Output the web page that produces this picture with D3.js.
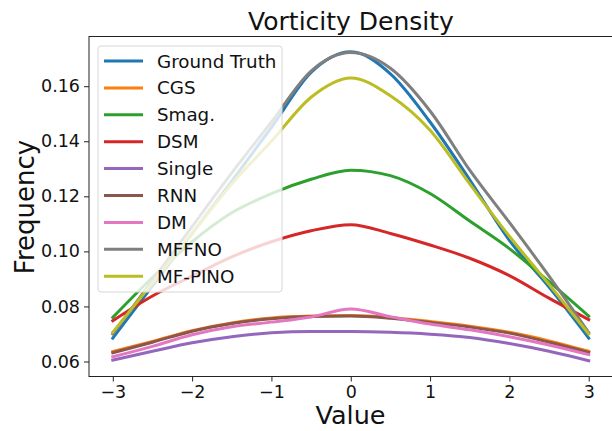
<!DOCTYPE html>
<html>
<head>
<meta charset="utf-8">
<script src="https://cdn.jsdelivr.net/npm/d3@7"></script>
<style>
  html, body { margin: 0; padding: 0; background: #fff; }
  svg { display: block; font-family: "DejaVu Sans", sans-serif; }
</style>
</head>
<body>
<svg id="chart" width="612" height="431"></svg>
<script>
const xValues = [-3, -2.5, -2, -1.5, -1, -0.5, 0, 0.5, 1, 1.5, 2, 2.5, 3];
const seriesNames = ["Ground Truth", "CGS", "Smag.", "DSM", "Single", "RNN", "DM", "MFFNO", "MF-PINO"];
const groundTruth = [0.0685, 0.0875, 0.1065, 0.1255, 0.1450, 0.1650, 0.1725, 0.1645, 0.1470, 0.1260, 0.1040, 0.0870, 0.0685];
const cgs         = [0.0636, 0.0673, 0.0712, 0.0740, 0.0758, 0.0765, 0.0767, 0.0760, 0.0745, 0.0728, 0.0706, 0.0675, 0.0637];
const smag        = [0.0760, 0.0905, 0.1035, 0.1140, 0.1210, 0.1262, 0.1295, 0.1275, 0.1210, 0.1110, 0.1010, 0.0890, 0.0765];
const dsm         = [0.0748, 0.0838, 0.0910, 0.0980, 0.1035, 0.1075, 0.1097, 0.1065, 0.1023, 0.0975, 0.0912, 0.0830, 0.0752];
const single      = [0.0605, 0.0637, 0.0668, 0.0690, 0.0704, 0.0709, 0.0709, 0.0706, 0.0699, 0.0687, 0.0665, 0.0637, 0.0603];
const rnn         = [0.0632, 0.0670, 0.0710, 0.0738, 0.0755, 0.0763, 0.0765, 0.0757, 0.0742, 0.0725, 0.0703, 0.0670, 0.0633];
const dm          = [0.0617, 0.0655, 0.0697, 0.0726, 0.0743, 0.0762, 0.0791, 0.0763, 0.0736, 0.0715, 0.0690, 0.0660, 0.0625];
const mffno       = [0.0700, 0.0895, 0.1090, 0.1285, 0.1470, 0.1655, 0.1722, 0.1665, 0.1510, 0.1295, 0.1105, 0.0910, 0.0705];
const mfpino      = [0.0706, 0.0885, 0.1065, 0.1245, 0.1400, 0.1560, 0.1630, 0.1565, 0.1440, 0.1245, 0.1055, 0.0880, 0.0700];
const seriesValues = [groundTruth, cgs, smag, dsm, single, rnn, dm, mffno, mfpino];
const colors = ["#1f77b4", "#ff7f0e", "#2ca02c", "#d62728", "#9467bd", "#8c564b", "#e377c2", "#7f7f7f", "#bcbd22"];
const xTicks = [-3, -2, -1, 0, 1, 2, 3];
const yTicks = [0.06, 0.08, 0.10, 0.12, 0.14, 0.16];
const titleText = "Vorticity Density";
const xLabel = "Value";
const yLabel = "Frequency";

const svg = d3.select("#chart");
const mLeft = 89, mRight = 612.5, mTop = 36.5, mBottom = 376.5;
const x = d3.scaleLinear().domain([-3.3, 3.3]).range([mLeft, mRight]);
const y = d3.scaleLinear().domain([0.05455, 0.17805]).range([mBottom, mTop]);

// lines
const line = d3.line().x((d, i) => x(xValues[i])).y(d => y(d)).curve(d3.curveMonotoneX);
const plot = svg.append("g");
seriesValues.forEach((vals, k) => {
  plot.append("path").datum(vals)
    .attr("d", line)
    .attr("fill", "none")
    .attr("stroke", colors[k])
    .attr("stroke-width", 3)
    .attr("stroke-linejoin", "round")
    .attr("stroke-linecap", "square");
});

// axes
const xAxis = d3.axisBottom(x).tickValues(xTicks).tickSize(5).tickPadding(4)
  .tickFormat(d => d < 0 ? "\u2212" + Math.abs(d) : String(d));
const yAxis = d3.axisLeft(y).tickValues(yTicks).tickSize(5).tickPadding(4)
  .tickFormat(d3.format(".2f"));
const gx = svg.append("g").attr("transform", `translate(0,${mBottom})`).call(xAxis);
const gy = svg.append("g").attr("transform", `translate(${mLeft},0)`).call(yAxis);
[gx, gy].forEach(g => {
  g.select(".domain").remove();
  g.selectAll(".tick line").attr("stroke", "#222").attr("stroke-width", 1);
  g.selectAll(".tick text").attr("font-size", 17.5).attr("fill", "#111")
    .attr("font-family", "DejaVu Sans, sans-serif");
});

// spines
svg.append("rect").attr("x", mLeft).attr("y", mTop)
  .attr("width", mRight - mLeft).attr("height", mBottom - mTop)
  .attr("fill", "none").attr("stroke", "#222").attr("stroke-width", 1);

// legend
const lg = svg.append("g");
lg.append("rect").attr("x", 98).attr("y", 46).attr("width", 184).attr("height", 246)
  .attr("rx", 3).attr("fill", "#fff").attr("fill-opacity", 0.8)
  .attr("stroke", "#d6d6d6").attr("stroke-width", 1);
seriesNames.forEach((name, k) => {
  const cy = 61 + k * 26.9;
  lg.append("line").attr("x1", 104).attr("x2", 143).attr("y1", cy).attr("y2", cy)
    .attr("stroke", colors[k]).attr("stroke-width", 3);
  lg.append("text").attr("x", 157).attr("y", cy).attr("dy", "0.36em")
    .attr("font-size", 18.3).attr("fill", "#111").text(name);
});

// titles
svg.append("text").attr("x", 351).attr("y", 30)
  .attr("text-anchor", "middle").attr("font-size", 25).attr("fill", "#111").text(titleText);
svg.append("text").attr("x", 350.5).attr("y", 424)
  .attr("text-anchor", "middle").attr("font-size", 25.5).attr("fill", "#111").text(xLabel);
svg.append("text").attr("transform", "translate(34,207) rotate(-90)")
  .attr("text-anchor", "middle").attr("font-size", 26).attr("fill", "#111").text(yLabel);
</script>
</body>
</html>
